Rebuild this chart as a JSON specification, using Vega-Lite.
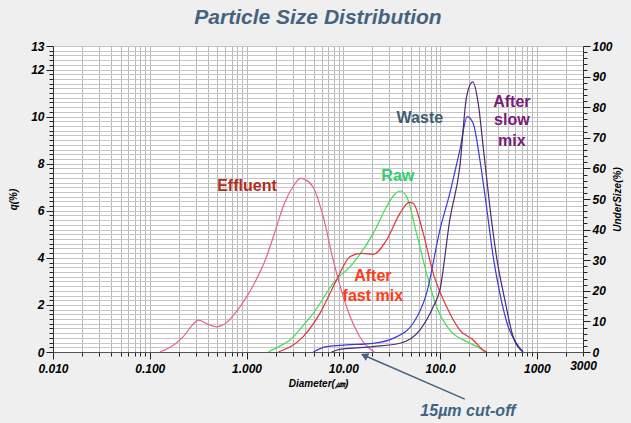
{
  "$schema": "https://vega.github.io/schema/vega-lite/v6.json",
  "width": 530,
  "height": 306,
  "autosize": "none",
  "padding": {"left": 53, "top": 46, "right": 48, "bottom": 71},
  "background": "#efefef",
  "title": {"text": "Particle Size Distribution", "font": "Liberation Sans", "fontSize": 21, "fontStyle": "italic", "fontWeight": "bold", "color": "#46627e", "anchor": "middle", "offset": 12},
  "config": {"view": {"fill": "white", "stroke": "#999999"}, "font": "Liberation Sans"},
  "datasets": {
    "curves": [
      {"s":"Effluent","d":0.127,"q":0},{"s":"Effluent","d":0.18,"q":0.32},{"s":"Effluent","d":0.222,"q":0.65},{"s":"Effluent","d":0.27,"q":1.1},{"s":"Effluent","d":0.317,"q":1.35},{"s":"Effluent","d":0.4,"q":1.18},{"s":"Effluent","d":0.49,"q":1.07},{"s":"Effluent","d":0.6,"q":1.2},{"s":"Effluent","d":0.855,"q":1.92},{"s":"Effluent","d":1.2,"q":2.9},{"s":"Effluent","d":1.61,"q":4.05},{"s":"Effluent","d":2.0,"q":5.2},{"s":"Effluent","d":2.39,"q":6.17},{"s":"Effluent","d":3.0,"q":7.0},{"s":"Effluent","d":3.6,"q":7.38},{"s":"Effluent","d":4.0,"q":7.33},{"s":"Effluent","d":4.89,"q":7.0},{"s":"Effluent","d":6.2,"q":5.75},{"s":"Effluent","d":7.86,"q":3.91},{"s":"Effluent","d":10.8,"q":1.92},{"s":"Effluent","d":14.8,"q":0.65},{"s":"Effluent","d":18,"q":0.2},{"s":"Effluent","d":21,"q":0},
      {"s":"Raw","d":1.68,"q":0},{"s":"Raw","d":2.2,"q":0.25},{"s":"Raw","d":2.81,"q":0.51},{"s":"Raw","d":3.8,"q":1.1},{"s":"Raw","d":4.89,"q":1.64},{"s":"Raw","d":7.86,"q":2.92},{"s":"Raw","d":12.6,"q":3.77},{"s":"Raw","d":20.4,"q":5.04},{"s":"Raw","d":28,"q":6.17},{"s":"Raw","d":34,"q":6.7},{"s":"Raw","d":38.5,"q":6.84},{"s":"Raw","d":45.1,"q":6.6},{"s":"Raw","d":57.2,"q":5.04},{"s":"Raw","d":72.5,"q":3.34},{"s":"Raw","d":92,"q":1.92},{"s":"Raw","d":126,"q":0.93},{"s":"Raw","d":188,"q":0.44},{"s":"Raw","d":258,"q":0.16},{"s":"Raw","d":290,"q":0},
      {"s":"Fast","d":2.13,"q":0},{"s":"Fast","d":3.85,"q":0.65},{"s":"Fast","d":5.73,"q":1.64},{"s":"Fast","d":8.53,"q":3.06},{"s":"Fast","d":11.7,"q":4.05},{"s":"Fast","d":15.5,"q":4.19},{"s":"Fast","d":20.4,"q":4.15},{"s":"Fast","d":28,"q":4.76},{"s":"Fast","d":38.5,"q":5.89},{"s":"Fast","d":48,"q":6.36},{"s":"Fast","d":52.7,"q":6.32},{"s":"Fast","d":67,"q":5.04},{"s":"Fast","d":85,"q":3.34},{"s":"Fast","d":117,"q":1.92},{"s":"Fast","d":160,"q":0.93},{"s":"Fast","d":220,"q":0.51},{"s":"Fast","d":279,"q":0.08},{"s":"Fast","d":304,"q":0},
      {"s":"Waste","d":4.89,"q":0},{"s":"Waste","d":6.7,"q":0.23},{"s":"Waste","d":10.8,"q":0.3},{"s":"Waste","d":20.4,"q":0.37},{"s":"Waste","d":32.8,"q":0.58},{"s":"Waste","d":52.7,"q":1.22},{"s":"Waste","d":72.5,"q":2.49},{"s":"Waste","d":99.5,"q":5.18},{"s":"Waste","d":126,"q":6.74},{"s":"Waste","d":160,"q":8.58},{"s":"Waste","d":191,"q":10.0},{"s":"Waste","d":220,"q":9.71},{"s":"Waste","d":258,"q":8.16},{"s":"Waste","d":302,"q":6.17},{"s":"Waste","d":354,"q":4.05},{"s":"Waste","d":415,"q":2.49},{"s":"Waste","d":506,"q":1.07},{"s":"Waste","d":617,"q":0.37},{"s":"Waste","d":721,"q":0},
      {"s":"Slow","d":7.57,"q":0},{"s":"Slow","d":9.2,"q":0.11},{"s":"Slow","d":20.4,"q":0.23},{"s":"Slow","d":38.5,"q":0.37},{"s":"Slow","d":61.8,"q":0.93},{"s":"Slow","d":85,"q":1.92},{"s":"Slow","d":99.5,"q":2.63},{"s":"Slow","d":126,"q":5.61},{"s":"Slow","d":160,"q":7.87},{"s":"Slow","d":188,"q":10.85},{"s":"Slow","d":217,"q":11.48},{"s":"Slow","d":248,"q":10.56},{"s":"Slow","d":279,"q":8.72},{"s":"Slow","d":327,"q":6.17},{"s":"Slow","d":383,"q":4.05},{"s":"Slow","d":467,"q":2.21},{"s":"Slow","d":569,"q":0.65},{"s":"Slow","d":721,"q":0}
    ],
    "labels": [
      {"s":"Effluent","t":"Effluent","d":1.01,"q":7.05},
      {"s":"Raw","t":"Raw","d":36.6,"q":7.48},
      {"s":"Fast","t":"After","d":20.2,"q":3.23},
      {"s":"Fast","t":"fast mix","d":20.2,"q":2.38},
      {"s":"Waste","t":"Waste","d":61.8,"q":9.94},
      {"s":"Slow","t":"After","d":552,"q":10.62},
      {"s":"Slow","t":"slow","d":552,"q":9.86},
      {"s":"Slow","t":"mix","d":552,"q":8.96}
    ],
    "note": [
      {"t":"15µm cut-off","d":194,"q":-2.5}
    ],
    "arrow": [
      {"d":180,"q":-2.0,"d2":16.5,"q2":-0.15}
    ],
    "qticks": [
      {"v":0},{"v":13}
    ]
  },
  "resolve": {"scale": {"y": "independent"}, "axis": {"y": "independent"}},
  "layer": [
    {
      "data": {"name": "qticks"},
      "mark": {"type": "point", "opacity": 0},
      "encoding": {
        "y": {
          "field": "v", "type": "quantitative",
          "scale": {"domain": [0, 13], "nice": false, "zero": false},
          "axis": {
            "title": "q(%)",
            "titleFont": "Liberation Sans", "titleFontSize": 10, "titleFontStyle": "italic", "titleFontWeight": "bold", "titleColor": "#000000", "titlePadding": 12,
            "values": [0,0.2,0.4,0.6,0.8,1,1.2,1.4,1.6,1.8,2,2.2,2.4,2.6,2.8,3,3.2,3.4,3.6,3.8,4,4.2,4.4,4.6,4.8,5,5.2,5.4,5.6,5.8,6,6.2,6.4,6.6,6.8,7,7.2,7.4,7.6,7.8,8,8.2,8.4,8.6,8.8,9,9.2,9.4,9.6,9.8,10,10.2,10.4,10.6,10.8,11,11.2,11.4,11.6,11.8,12,12.2,12.4,12.6,12.8,13],
            "labelExpr": "(abs(datum.value/2 - round(datum.value/2)) < 0.001 || datum.value == 13) ? format(datum.value, 'd') : ''",
            "labelOverlap": false,
            "labelFlush": false,
            "labelBound": false,
            "labelFont": "Liberation Sans", "labelFontSize": 12, "labelFontStyle": "italic", "labelFontWeight": "bold", "labelColor": "#000000", "labelPadding": 2,
            "grid": true,
            "gridColor": "#c6c6c6", "gridWidth": 1,
            "domainColor": "#333333",
            "tickColor": "#222222",
            "tickSize": {"condition": {"test": "abs(datum.value/2 - round(datum.value/2)) < 0.001 || datum.value == 13", "value": 7}, "value": 4}
          }
        }
      }
    },
    {
      "data": {"name": "curves"},
      "mark": {"type": "line", "interpolate": "monotone", "strokeWidth": 1.2},
      "encoding": {
        "x": {
          "field": "d", "type": "quantitative",
          "scale": {"type": "log", "domain": [0.01, 3000], "nice": false},
          "axis": {
            "title": "Diameter(㎛)",
            "titleFont": "Liberation Sans", "titleFontSize": 10, "titleFontStyle": "italic", "titleFontWeight": "bold", "titleColor": "#000000", "titlePadding": 4,
            "values": [0.01,0.02,0.03,0.04,0.05,0.06,0.07,0.08,0.09,0.1,0.2,0.3,0.4,0.5,0.6,0.7,0.8,0.9,1,2,3,4,5,6,7,8,9,10,20,30,40,50,60,70,80,90,100,200,300,400,500,600,700,800,900,1000,2000,3000],
            "labelExpr": "datum.value == 0.01 ? '0.010' : datum.value == 0.1 ? '0.100' : datum.value == 1 ? '1.000' : datum.value == 10 ? '10.00' : datum.value == 100 ? '100.0' : datum.value == 1000 ? '1000' : datum.value == 3000 ? '3000' : ''",
            "labelOverlap": false,
            "labelFlush": false,
            "labelBound": false,
            "labelFont": "Liberation Sans", "labelFontSize": 12, "labelFontStyle": "italic", "labelFontWeight": "bold", "labelColor": "#000000", "labelPadding": 4,
            "gridColor": "#b8b8b8", "gridWidth": 1,
            "domainColor": "#555555",
            "tickColor": "#222222",
            "tickSize": {"condition": {"test": "datum.value == 0.01 || datum.value == 0.1 || datum.value == 1 || datum.value == 10 || datum.value == 100 || datum.value == 1000", "value": 7}, "value": 4}
          }
        },
        "y": {
          "field": "q", "type": "quantitative",
          "scale": {"domain": [0, 13], "nice": false, "zero": false},
          "axis": null
        },
        "stroke": {
          "field": "s", "type": "nominal",
          "scale": {"domain": ["Effluent","Raw","Fast","Waste","Slow"], "range": ["#e8609a","#44dd55","#e0333a","#3a3ad8","#4b2a6e"]},
          "legend": null
        },
        "detail": {"field": "s"}
      }
    },
    {
      "mark": {"type": "rule", "strokeDash": [2, 2], "color": "#e6a6b8", "strokeWidth": 1},
      "encoding": {
        "y": {"datum": 0, "type": "quantitative", "scale": {"domain": [0, 13], "nice": false, "zero": false}, "axis": null}
      }
    },
    {
      "data": {"name": "arrow"},
      "mark": {"type": "rule", "color": "#46627e", "strokeWidth": 1.5},
      "encoding": {
        "x": {"field": "d", "type": "quantitative"},
        "y": {"field": "q", "type": "quantitative", "scale": {"domain": [0, 13], "nice": false, "zero": false}, "axis": null},
        "x2": {"field": "d2"},
        "y2": {"field": "q2"}
      }
    },
    {
      "data": {"name": "arrow"},
      "mark": {"type": "point", "shape": "triangle-up", "filled": true, "size": 70, "angle": 294, "color": "#46627e", "opacity": 1},
      "encoding": {
        "x": {"field": "d2", "type": "quantitative"},
        "y": {"field": "q2", "type": "quantitative", "scale": {"domain": [0, 13], "nice": false, "zero": false}, "axis": null}
      }
    },
    {
      "data": {"name": "labels"},
      "mark": {"type": "text", "font": "Liberation Sans", "fontSize": 16, "fontWeight": "bold", "align": "center", "baseline": "middle"},
      "encoding": {
        "x": {"field": "d", "type": "quantitative"},
        "y": {"field": "q", "type": "quantitative", "scale": {"domain": [0, 13], "nice": false, "zero": false}, "axis": null},
        "text": {"field": "t"},
        "fill": {
          "field": "s", "type": "nominal",
          "scale": {"domain": ["Effluent","Raw","Fast","Waste","Slow"], "range": ["#b22c1c","#2fd06a","#ff3a14","#3f5c74","#7a1a7a"]},
          "legend": null
        }
      }
    },
    {
      "data": {"name": "note"},
      "mark": {"type": "text", "font": "Liberation Sans", "fontSize": 16, "fontWeight": "bold", "fontStyle": "italic", "align": "center", "baseline": "middle", "color": "#3f6383"},
      "encoding": {
        "x": {"field": "d", "type": "quantitative"},
        "y": {"field": "q", "type": "quantitative", "scale": {"domain": [0, 13], "nice": false, "zero": false}, "axis": null},
        "text": {"field": "t"}
      }
    },
    {
      "data": {"values": [{"u": 0}, {"u": 100}]},
      "mark": {"type": "point", "opacity": 0},
      "encoding": {
        "y": {
          "field": "u", "type": "quantitative",
          "scale": {"domain": [0, 100], "nice": false},
          "axis": {
            "orient": "right",
            "title": "UnderSize(%)",
            "titleAngle": 270,
            "titleFont": "Liberation Sans", "titleFontSize": 10, "titleFontStyle": "italic", "titleFontWeight": "bold", "titleColor": "#000000", "titlePadding": 10,
            "values": [0,2,4,6,8,10,12,14,16,18,20,22,24,26,28,30,32,34,36,38,40,42,44,46,48,50,52,54,56,58,60,62,64,66,68,70,72,74,76,78,80,82,84,86,88,90,92,94,96,98,100],
            "labelExpr": "datum.value % 10 == 0 ? format(datum.value, 'd') : ''",
            "labelOverlap": false,
            "labelFlush": false,
            "labelBound": false,
            "labelFont": "Liberation Sans", "labelFontSize": 12, "labelFontStyle": "italic", "labelFontWeight": "bold", "labelColor": "#000000", "labelPadding": 2,
            "grid": false,
            "domainColor": "#333333",
            "tickColor": "#222222",
            "tickSize": {"condition": {"test": "datum.value % 10 == 0", "value": 7}, "value": 4}
          }
        }
      }
    }
  ]
}
